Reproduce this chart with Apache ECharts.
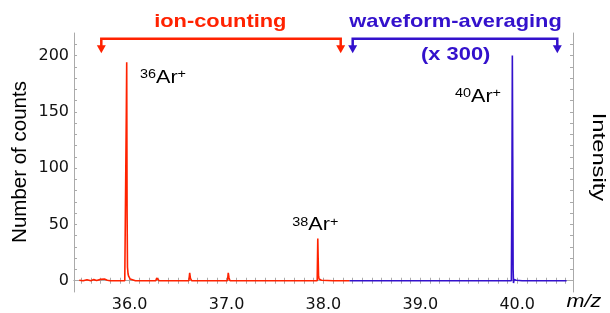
<!DOCTYPE html>
<html>
<head>
<meta charset="utf-8">
<script src="https://cdn.jsdelivr.net/npm/echarts@6/dist/echarts.min.js"></script>
<style>
  html, body { margin: 0; padding: 0; background: #fff; }
  #spectrum { width: 610px; height: 313px; }
</style>
</head>
<body>
<div id="spectrum"></div>
<script>
// ion-counting part (red), m/z vs counts
var redMz = [35.48, 35.52, 35.56, 35.60, 35.63, 35.66, 35.70, 35.72, 35.74, 35.77, 35.80, 35.85, 35.90, 35.95,
  35.962, 35.966, 35.970, 35.974, 35.978, 35.984, 35.990, 35.998, 36.006, 36.015, 36.06, 36.065, 36.07, 36.15,
  36.27, 36.280, 36.288, 36.296, 36.305, 36.45, 36.55, 36.612, 36.620, 36.628, 36.640, 36.75, 36.85,
  37.010, 37.018, 37.026, 37.036, 37.15, 37.30, 37.45, 37.60, 37.75, 37.85,
  37.936, 37.942, 37.946, 37.950, 37.955, 37.962, 37.970, 37.980, 38.00, 38.10, 38.27];
var redCounts = [0.5, 0, 0.8, 0, 1, 0.3, 1.2, 0.5, 1.5, 0.5, 0, 0, 0, 0,
  0, 150, 194, 60, 12, 6, 4, 2.5, 1.5, 0, 0, 1.5, 0, 0,
  0, 2.5, 3.5, 2, 0, 0, 0, 0, 7, 2, 0, 0, 0,
  0, 7, 2.5, 0, 0, 0, 0, 0, 0, 0,
  0, 37.5, 20, 4, 1.5, 1.5, 1, 0.5, 0, 0, 0];

// waveform-averaging part (blue)
var blueMz = [38.27, 38.6, 39.0, 39.4, 39.8, 39.94, 39.946, 39.950, 39.954, 39.958, 39.962, 39.968, 39.975, 39.99, 40.05, 40.2, 40.51];
var blueIntensity = [0, 0, 0, 0, 0, 0, 90, 200, 110, 10, -2, 1, 0.5, 0.5, 0, 0, 0];

// tick labels
var xLabelValues = [36, 37, 38, 39, 40];
var yLabelValues = [0, 50, 100, 150, 200];

// small ticks every 0.1 on m/z, every 10 on counts
var xTickValues = [];
for (var i = 355; i <= 405; i++) xTickValues.push(i / 10);
var yTickValues = [];
for (var j = 0; j <= 210; j += 10) yTickValues.push(j);

function pairs(xs, ys) {
  return xs.map(function (x, k) { return [x, ys[k]]; });
}

var redColor = '#ff2200';
var blueColor = '#3311cc';
var axisGray = '#aaaaaa';

function bracket(x1, x2, y, tipY, color) {
  var head = 8;
  return [{
    type: 'polyline',
    shape: { points: [[x1, tipY - head + 1], [x1, y], [x2, y], [x2, tipY - head + 1]] },
    style: { stroke: color, lineWidth: 2.5, fill: null }
  }, {
    type: 'polygon',
    shape: { points: [[x1 - 4.5, tipY - head], [x1 + 4.5, tipY - head], [x1, tipY]] },
    style: { fill: color }
  }, {
    type: 'polygon',
    shape: { points: [[x2 - 4.5, tipY - head], [x2 + 4.5, tipY - head], [x2, tipY]] },
    style: { fill: color }
  }];
}

function boldText(txt, cx, cy, color) {
  return {
    type: 'text', x: cx, y: cy, scaleX: 1.15,
    style: { text: txt, x: 0, y: 0, align: 'center', verticalAlign: 'middle',
      font: 'bold 19px "Liberation Sans", Arial, sans-serif', fill: color }
  };
}

function ionLabel(mass, left, cy) {
  return {
    type: 'text', x: left, y: cy, scaleX: 1.2,
    style: {
      text: '{s|' + mass + '}{n|Ar}{s|+}', x: 0, y: 0, align: 'left', verticalAlign: 'middle',
      fill: '#000',
      rich: {
        s: { fontSize: 12, fontFamily: '"Liberation Sans", Arial', verticalAlign: 'top', fill: '#000' },
        n: { fontSize: 18, fontFamily: '"Liberation Sans", Arial', fill: '#000' }
      }
    }
  };
}

var myChart = echarts.init(document.getElementById('spectrum'));

var graphics = []
  .concat(bracket(101.3, 340.7, 38.8, 53.3, redColor))
  .concat(bracket(352.7, 557.3, 38.8, 53.3, blueColor))
  .concat([
    boldText('ion-counting', 220.3, 22, redColor),
    boldText('waveform-averaging', 455.5, 22, blueColor),
    boldText('(x 300)', 455.7, 55, blueColor),
    ionLabel(36, 140, 78),
    ionLabel(38, 292.3, 225.5),
    ionLabel(40, 455, 97),
    {
      type: 'text', x: 20, y: 162, rotation: Math.PI / 2,
      style: { text: 'Number of counts', x: 0, y: 0, align: 'center', verticalAlign: 'middle',
        font: '20.5px "Liberation Sans", Arial, sans-serif', fill: '#000' }
    },
    {
      type: 'text', x: 598, y: 157, rotation: -Math.PI / 2, scaleX: 1.25,
      style: { text: 'Intensity', x: 0, y: 0, align: 'center', verticalAlign: 'middle',
        font: '19px "Liberation Sans", Arial, sans-serif', fill: '#000' }
    },
    {
      type: 'text', x: 566.5, y: 302, scaleX: 1.2,
      style: { text: 'm/z', x: 0, y: 0, align: 'left', verticalAlign: 'middle',
        font: 'italic 18px "Liberation Sans", Arial, sans-serif', fill: '#000' }
    }
  ]);

var option = {
  animation: false,
  grid: { left: 74, right: 37, top: 33, bottom: 20 },
  xAxis: [{
    type: 'value', position: 'bottom', min: 35.426, max: 40.576,
    axisLine: { show: true, lineStyle: { color: axisGray } },
    axisTick: { show: true, inside: true, length: 3, customValues: xTickValues, lineStyle: { color: axisGray } },
    axisLabel: {
      customValues: xLabelValues, margin: 5, color: '#111',
      fontFamily: '"DejaVu Sans"', fontSize: 16,
      formatter: function (v) { return v.toFixed(1); }
    },
    splitLine: { show: false }
  }, {
    type: 'value', position: 'top', min: 35.426, max: 40.576,
    axisLine: { show: true, lineStyle: { color: axisGray } },
    axisTick: { show: true, inside: true, length: 3, customValues: xTickValues, lineStyle: { color: axisGray } },
    axisLabel: { show: false },
    splitLine: { show: false }
  }],
  yAxis: [{
    type: 'value', position: 'left', min: -10, max: 220,
    axisLine: { show: true, lineStyle: { color: axisGray } },
    axisTick: { show: true, inside: true, length: 3, customValues: yTickValues, lineStyle: { color: axisGray } },
    axisLabel: {
      customValues: yLabelValues, margin: 5, color: '#111',
      fontFamily: '"DejaVu Sans"', fontSize: 16
    },
    splitLine: { show: false }
  }, {
    type: 'value', position: 'right', min: -10, max: 220,
    axisLine: { show: true, lineStyle: { color: axisGray } },
    axisTick: { show: true, inside: true, length: 3, customValues: yTickValues, lineStyle: { color: axisGray } },
    axisLabel: { show: false },
    splitLine: { show: false }
  }],
  series: [{
    name: 'ion-counting',
    type: 'line',
    showSymbol: false,
    xAxisIndex: 0, yAxisIndex: 0,
    lineStyle: { color: redColor, width: 1.6 },
    data: pairs(redMz, redCounts)
  }, {
    name: 'waveform-averaging',
    type: 'line',
    showSymbol: false,
    xAxisIndex: 0, yAxisIndex: 0,
    lineStyle: { color: blueColor, width: 1.6 },
    data: pairs(blueMz, blueIntensity)
  }],
  graphic: graphics
};

myChart.setOption(option, true);
</script>
</body>
</html>
